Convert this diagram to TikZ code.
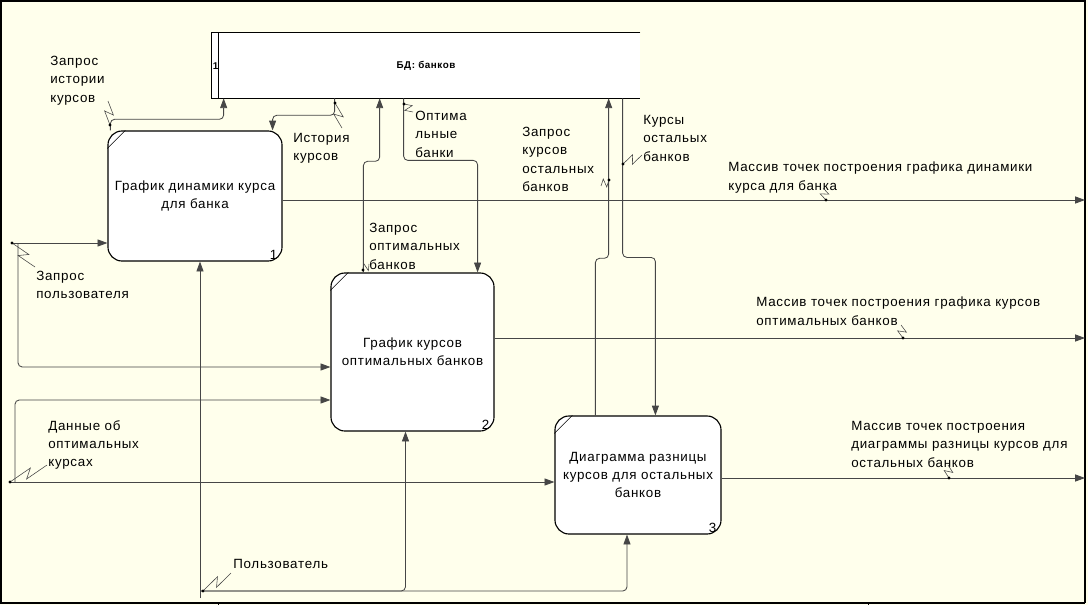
\documentclass[tikz,border=0pt]{standalone}
\usepackage{fontspec}
\setmainfont{Liberation Sans}[LetterSpace=5.5]
\usetikzlibrary{arrows.meta,calc}

\definecolor{fon}{RGB}{255,255,236}
\definecolor{liniya}{RGB}{70,70,70}

\tikzset{
  blok/.style={draw, line width=0.8pt, fill=white, rounded corners=10pt, align=center, inner sep=0pt},
  flow/.style={draw=liniya, line width=0.6pt, rounded corners=3pt, -{Triangle[length=7pt,width=5pt]}},
  lbl/.style={anchor=north west, inner sep=0pt, align=left},
  nomer/.style={anchor=south east, inner sep=0pt},
}
% стрелка-молния от подписи к потоку
\newcommand{\squig}[2]{%
  \draw[liniya, line width=0.4pt] (#1) -- ($(#1)!0.6!(#2)!3pt!90:(#2)$)
       -- ($(#1)!0.4!(#2)!3pt!-90:(#2)$) -- (#2);
  \fill (#1) circle (1.1pt);}

\begin{document}
\begin{tikzpicture}[x=0.025cm, y=-0.025cm, font=\fontsize{9.5}{13}\selectfont]
    % фон и рамка
    \fill[fon] (0,0) rectangle (1088,605);
    \useasboundingbox (0,0) rectangle (1088,605);
    \draw[line width=1pt] (1,603) -- (1,1) -- (1085,1) -- (1085,603);
    \draw[line width=1pt] (0,603) -- (1085,603);
    \draw (218,603) -- (218,605);
    \draw (868,603) -- (868,605);
    \coordinate (rb) at (1085,300);

    % хранилище данных
    \node[fill=white, minimum width=10.7cm, minimum height=1.625cm, inner sep=0pt,
          font=\bfseries\fontsize{7}{8}\selectfont] (db) at (426,65.5) {БД: банков};
    \draw[line width=0.8pt] (db.north east) -- (db.north west) -- (db.south west) -- (db.south east);
    \draw[line width=0.8pt] ($(db.north west)+(7,0)$) -- ($(db.south west)+(7,0)$);
    \node[font=\bfseries\fontsize{7}{8}\selectfont, inner sep=0pt] at (215.5,66) {1};

    % работы
    \node[blok, minimum width=4.35cm, minimum height=3.25cm] (b1) at (195,196)
         {График динамики курса\\для банка};
    \node[blok, minimum width=4.075cm, minimum height=3.95cm] (b2) at (412.5,352)
         {График курсов\\оптимальных банков};
    \node[blok, minimum width=4.15cm, minimum height=2.95cm] (b3) at (638,475)
         {Диаграмма разницы\\курсов для остальных\\банков};
    \foreach \b/\n in {b1/1, b2/2, b3/3} {
      \draw ($(\b.north west)+(0,18)$) -- ($(\b.north west)+(18,0)$);
      \node[nomer] at ($(\b.south east)+(-5,-2)$) {\n};
    }

    % потоки к хранилищу и обратно
    \draw[flow] ($(b1.north west)+(3,0)$) |- ($(db.south west)+(12,21)$) -- ($(db.south west)+(12,0)$);
    \draw[flow] ($(db.south west)+(123,0)$) -- ++(0,17) -| ($(b1.north east)+(-10,0)$);
    \draw[flow] ($(b2.north west)+(33,0)$) |- ($(db.south west)+(168,63)$) -- ($(db.south west)+(168,0)$);
    \draw[flow] ($(db.south west)+(192,0)$) |- ($(b2.north east)+(-17,-112)$) -- ($(b2.north east)+(-17,0)$);
    \draw[flow] ($(b3.north west)+(41,0)$) |- ($(db.south west)+(397,160)$) -- ($(db.south west)+(397,0)$);
    \draw[flow] ($(db.south west)+(411,0)$) |- ($(b3.north west)+(101,-158)$) -- ($(b3.north west)+(101,0)$);

    % выходы
    \coordinate (o1) at ($(b1.east)+(0,4)$);
    \coordinate (o2) at ($(b2.east)+(0,-14)$);
    \coordinate (o3) at ($(b3.east)+(0,3)$);
    \draw[flow] (o1) -- (o1 -| rb);
    \draw[flow] (o2) -- (o2 -| rb);
    \draw[flow] (o3) -- (o3 -| rb);

    % входы
    \coordinate (in1) at (12,243);
    \coordinate (in2) at (10,482);
    \coordinate (in3) at (200,591);
    \draw[flow] (in1) -- (in1 -| b1.west);
    \draw[flow] ($(in1)+(6,0)$) |- ($(b2.west)+(0,15)$);
    \draw[flow] (in2) -- (in2 -| b3.west);
    \draw[flow] ($(in2)+(5,0)$) |- ($(b2.west)+(0,48)$);

    % управление
    \draw[flow] ($(in3)+(0,7)$) -- (in3 |- b1.south);
    \draw[flow] (in3) -| ($(b2.south)+(-7,0)$);
    \draw[flow] (in3) -| ($(b3.south)+(-11,0)$);

    % подписи
    \node[lbl] (lzik) at (50,56) {Запрос\\истории\\курсов};
    \node[lbl] (lik) at (293,133) {История\\курсов};
    \node[lbl] (lob) at (415,111) {Оптима\\льные\\банки};
    \node[lbl] (lzko) at (522,127) {Запрос\\курсов\\остальных\\банков};
    \node[lbl] (lko) at (643,115) {Курсы\\остальых\\банков};
    \node[lbl] (lzob) at (369,223) {Запрос\\оптимальных\\банков};
    \node[lbl] (lzp) at (36,271) {Запрос\\пользователя};
    \node[lbl] (ldo) at (48,420) {Данные об\\оптимальных\\курсах};
    \node[lbl] (lp) at (233,559) {Пользователь};
    \node[lbl] (lm1) at (728,162) {Массив точек построения графика динамики\\курса для банка};
    \node[lbl] (lm2) at (756,297) {Массив точек построения графика курсов\\оптимальных банков};
    \node[lbl] (lm3) at (851,421) {Массив точек построения\\диаграммы разницы курсов для\\остальных банков};

    % молнии
    \squig{110,125}{108,101}
    \squig{335,103}{342,128}
    \squig{404,104}{413,112}
    \squig{609,180}{601,186}
    \squig{623,164}{642,155}
    \squig{363,270}{369,264}
    \squig{12,243}{35,267}
    \squig{10,482}{47,465}
    \squig{203,591}{231,573}
    \squig{826,200}{823,188}
    \squig{903,338}{901,325}
    \squig{949,478}{948,465}
\end{tikzpicture}
\end{document}
